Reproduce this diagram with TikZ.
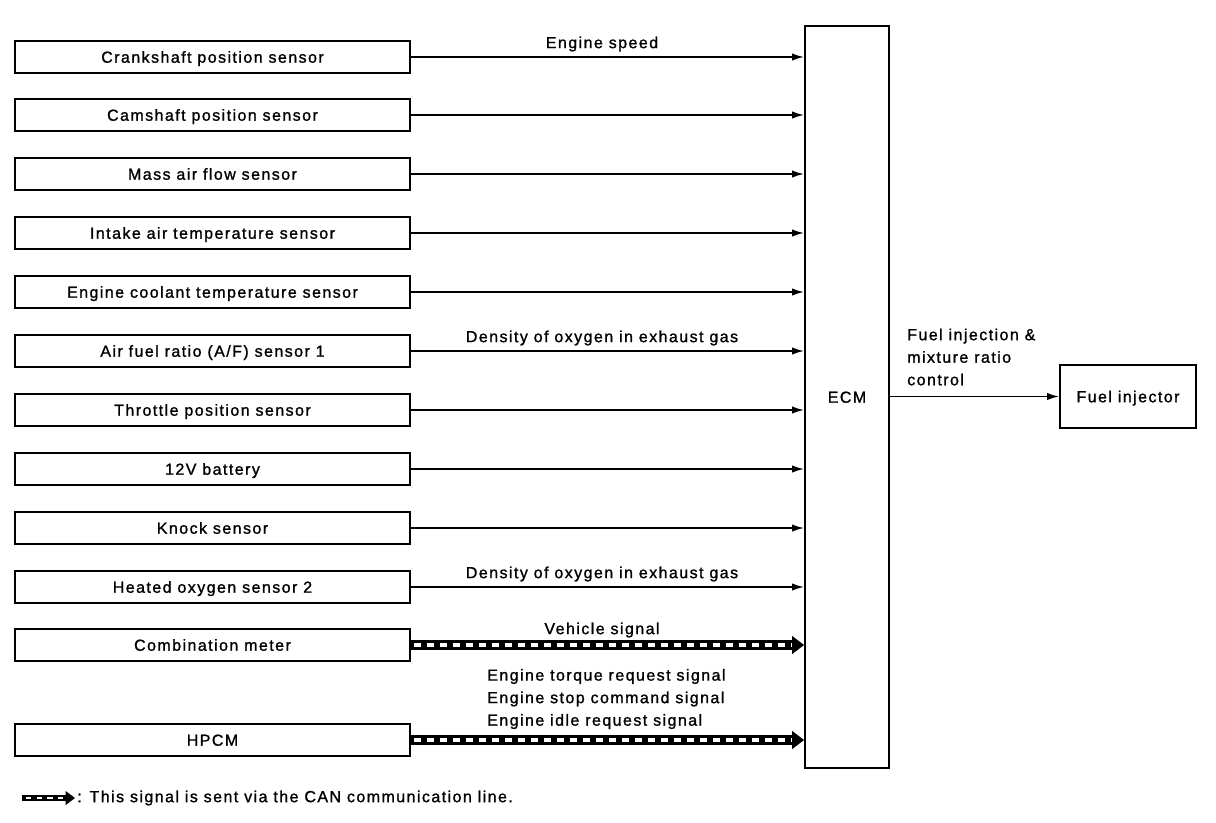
\documentclass[tikz,border=0pt]{standalone}
\usepackage{fontspec}
\setmainfont{Liberation Sans}[LetterSpace=9, FakeBold=1.2]
\usetikzlibrary{arrows.meta}
\begin{document}
\begin{tikzpicture}[x=0.75pt,y=-0.75pt,
  font=\fontsize{12}{16.9}\selectfont,
  box/.style={draw, line width=1.3pt, inner sep=0pt, text height=8.6pt, text depth=0pt},
  sensor/.style={box, minimum width=296.25pt, minimum height=24pt},
  sig/.style={line width=1.3pt, -{Latex[length=9pt,width=5.5pt]}},
  canbody/.style={line width=7.5pt, -{Triangle[length=9pt,width=13pt]}},
  candash/.style={draw=white, line width=3.4pt, dash pattern=on 5.25pt off 4.5pt, shorten >=9pt},
  lbl/.style={inner sep=0pt}]
\useasboundingbox (0,0) rectangle (1216,822);
% sensors
\foreach \n/\y/\t in {1/57/{Crankshaft position sensor},
  2/115/{Camshaft position sensor},
  3/174/{Mass air flow sensor},
  4/233/{Intake air temperature sensor},
  5/292/{Engine coolant temperature sensor},
  6/351/{Air fuel ratio (A/F) sensor 1},
  7/410/{Throttle position sensor},
  8/469/{12V battery},
  9/528/{Knock sensor},
  10/587/{Heated oxygen sensor 2},
  11/645/{Combination meter},
  12/740/{HPCM}}
  \node[sensor] (s\n) at (212.5,\y) {\t};
% ECM
\node[box, minimum width=63pt, minimum height=556.5pt] (ecm) at (847,397) {ECM};
% Fuel injector
\node[box, minimum width=102pt, minimum height=47.25pt] (fi) at (1128,396.5) {Fuel injector};
% signal arrows
\foreach \n in {1,...,10}
  \draw[sig] (s\n.east) -- (s\n.east -| ecm.west);
% CAN arrows
\foreach \n in {11,12}{
  \draw[canbody] (s\n.east) -- (s\n.east -| ecm.west);
  \draw[candash] ([xshift=2pt]s\n.east) -- (s\n.east -| ecm.west);
}
\draw[sig] (fi.west -| ecm.east) -- (fi.west);
% labels
\node[lbl] (l1) at (602,44) {Engine speed};
\node[lbl] (l6) at (602,338) {Density of oxygen in exhaust gas};
\node[lbl] (l10) at (602,574) {Density of oxygen in exhaust gas};
\node[lbl] (l11) at (602,630) {Vehicle signal};
\node[lbl, anchor=west, align=left] (l12) at (487,699) {Engine torque request signal\\Engine stop command signal\\Engine idle request signal};
\node[lbl, anchor=west, align=left] (lf) at (907,357) {Fuel injection \&\\mixture ratio\\control};
% legend
\coordinate (g1) at (22,798);
\coordinate (g2) at (75,798);
\draw[line width=4.8pt, -{Triangle[length=7pt,width=10pt]}] (g1) -- (g2);
\draw[draw=white, line width=2pt, dash pattern=on 4pt off 4pt, dash phase=-3pt, shorten >=7pt] (g1) -- (g2);
\node[lbl, anchor=west] (lg) at (77,798) {: This signal is sent via the CAN communication line.};
\end{tikzpicture}
\end{document}
